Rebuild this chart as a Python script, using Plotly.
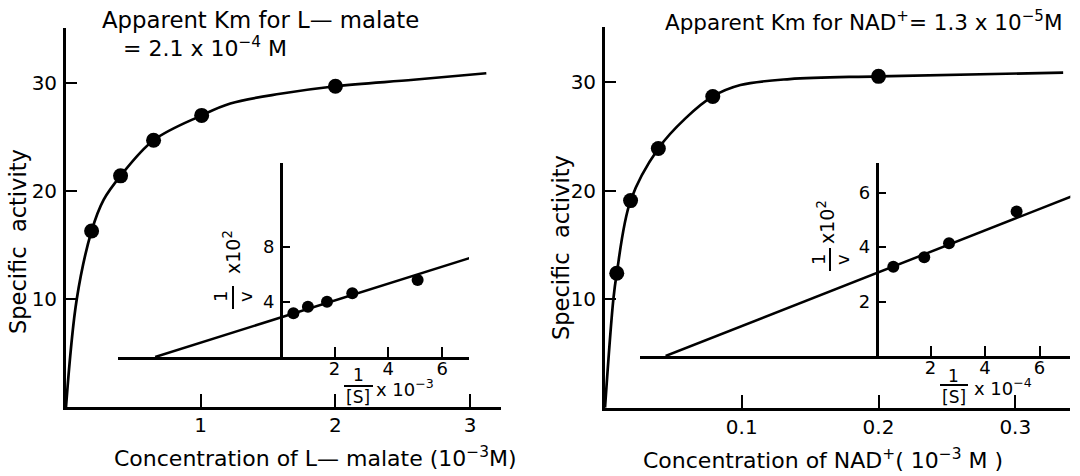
import plotly.graph_objects as go

W, H = 1080, 476

# ---------------- data ----------------
# Left panel: L-malate saturation curve
malate_conc = [0.19, 0.405, 0.65, 1.007, 2.0]
malate_act = [16.3, 21.4, 24.7, 27.0, 29.7]
malate_curve_x = [0.0, 0.08, 0.19, 0.28, 0.405, 0.65, 1.007, 1.22, 1.59, 2.0, 2.58, 3.12]
malate_curve_y = [0.0, 10.0, 16.3, 19.2, 21.4, 24.7, 27.0, 28.1, 29.0, 29.7, 30.3, 30.9]
# Left inset: Lineweaver-Burk
malate_inv_s = [0.47, 1.01, 1.72, 2.66, 5.09]
malate_inv_v = [3.18, 3.66, 4.02, 4.63, 5.6]
malate_fit_x = [-4.67, 7.06]
malate_fit_y = [0.0, 7.22]

# Right panel: NAD+ saturation curve
nad_conc = [0.0086, 0.0187, 0.039, 0.0788, 0.2]
nad_act = [12.4, 19.1, 23.9, 28.7, 30.55]
nad_curve_x = [0.0, 0.0061, 0.0086, 0.0187, 0.039, 0.059, 0.0788, 0.099, 0.135, 0.2, 0.335]
nad_curve_y = [0.0, 10.0, 12.4, 19.1, 23.9, 26.7, 28.7, 29.75, 30.3, 30.55, 30.9]
# Right inset: Lineweaver-Burk
nad_inv_s = [0.635, 1.77, 2.68, 5.16]
nad_inv_v = [3.28, 3.63, 4.14, 5.31]
nad_fit_x = [-7.72, 7.24]
nad_fit_y = [0.0, 5.89]

main_y_ticks = [10, 20, 30]
left_x_ticks = [1, 2, 3]
right_x_ticks = [0.1, 0.2, 0.3]
right_x_labels = ["0.1", "0.2", "0.3"]
inset_x_ticks = [2, 4, 6]
left_inset_y_ticks = [4, 8]
right_inset_y_ticks = [2, 4, 6]

FONT = "DejaVu Sans"
BLACK = "black"


def fx(p):
    return p / W


def fy(p):
    return 1 - p / H


fig = go.Figure()

# Main curves and points
fig.add_trace(go.Scatter(x=malate_curve_x, y=malate_curve_y, mode="lines",
                         line=dict(color=BLACK, width=2.7, shape="spline", smoothing=1.0),
                         xaxis="x", yaxis="y", hoverinfo="skip"))
fig.add_trace(go.Scatter(x=malate_conc, y=malate_act, mode="markers",
                         marker=dict(color=BLACK, size=15), xaxis="x", yaxis="y"))
fig.add_trace(go.Scatter(x=malate_fit_x, y=malate_fit_y, mode="lines",
                         line=dict(color=BLACK, width=2.5), xaxis="x2", yaxis="y2"))
fig.add_trace(go.Scatter(x=malate_inv_s, y=malate_inv_v, mode="markers",
                         marker=dict(color=BLACK, size=12), xaxis="x2", yaxis="y2"))

fig.add_trace(go.Scatter(x=nad_curve_x, y=nad_curve_y, mode="lines",
                         line=dict(color=BLACK, width=2.7, shape="spline", smoothing=1.0),
                         xaxis="x3", yaxis="y3", hoverinfo="skip"))
fig.add_trace(go.Scatter(x=nad_conc, y=nad_act, mode="markers",
                         marker=dict(color=BLACK, size=15), xaxis="x3", yaxis="y3"))
fig.add_trace(go.Scatter(x=nad_fit_x, y=nad_fit_y, mode="lines",
                         line=dict(color=BLACK, width=2.5), xaxis="x4", yaxis="y4"))
fig.add_trace(go.Scatter(x=nad_inv_s, y=nad_inv_v, mode="markers",
                         marker=dict(color=BLACK, size=12), xaxis="x4", yaxis="y4"))

tickfont = dict(family=FONT, size=20, color=BLACK)
insetfont = dict(family=FONT, size=18, color=BLACK)

common = dict(showgrid=False, zeroline=False, showline=True, linecolor=BLACK,
              ticks="inside", tickcolor=BLACK, fixedrange=True)

layout = dict(
    width=W, height=H, margin=dict(l=0, r=0, t=0, b=0),
    paper_bgcolor="white", plot_bgcolor="rgba(0,0,0,0)", showlegend=False,
    # left main
    xaxis=dict(domain=[fx(66), fx(501)], range=[0, 3.229], anchor="y",
               tickvals=left_x_ticks, ticklen=13, tickwidth=2.4, linewidth=2.8,
               tickfont=tickfont, ticklabelstandoff=-2, **common),
    yaxis=dict(domain=[fy(407), fy(28)], range=[0, 35.09], anchor="x",
               tickvals=main_y_ticks, ticklen=11, tickwidth=2.4, linewidth=2.8,
               tickfont=tickfont, ticklabelstandoff=2, **common),
    # left inset
    xaxis2=dict(domain=[fx(117.8), fx(469)], range=[-6.06, 7.0], anchor="y2",
                tickvals=inset_x_ticks, ticklen=10, tickwidth=2.2, linewidth=2.5,
                tickfont=insetfont, ticklabelstandoff=-6, **common),
    yaxis2=dict(domain=[fy(357), fy(163.3)], range=[0, 14.09], anchor="free",
                position=fx(280.7), tickvals=left_inset_y_ticks, ticklen=8,
                tickwidth=2.2, linewidth=2.5, tickfont=insetfont,
                ticklabelstandoff=2, **common),
    # right main
    xaxis3=dict(domain=[fx(605), fx(1070)], range=[0, 0.340], anchor="y3",
                tickvals=right_x_ticks, ticktext=right_x_labels, ticklen=13,
                tickwidth=2.4, linewidth=2.8, tickfont=tickfont,
                ticklabelstandoff=-1, **common),
    yaxis3=dict(domain=[fy(407.8), fy(27)], range=[0, 35.1], anchor="x3",
                tickvals=main_y_ticks, ticklen=11, tickwidth=2.4, linewidth=2.8,
                tickfont=tickfont, ticklabelstandoff=2, **common),
    # right inset
    xaxis4=dict(domain=[fx(640), fx(1070.3)], range=[-8.66, 7.13], anchor="y4",
                tickvals=inset_x_ticks, ticklen=10, tickwidth=2.2, linewidth=2.5,
                tickfont=insetfont, ticklabelstandoff=-6, **common),
    yaxis4=dict(domain=[fy(356), fy(163.3)], range=[0, 7.08], anchor="free",
                position=fx(876.5), tickvals=right_inset_y_ticks, ticklen=8,
                tickwidth=2.2, linewidth=2.5, tickfont=insetfont,
                ticklabelstandoff=2, **common),
)
fig.update_layout(**layout)

anns = []


def txt(text, x, y, size=20, xanchor="center", yanchor="middle", angle=0):
    anns.append(dict(text=text, x=fx(x), y=fy(y), xref="paper", yref="paper",
                     showarrow=False, xanchor=xanchor, yanchor=yanchor,
                     textangle=angle, borderpad=0,
                     font=dict(family=FONT, size=size, color=BLACK)))


# Titles
txt("Apparent Km for L\u2014 malate", 101, 20, size=22.8, xanchor="left")
txt("= 2.1 x 10<sup>\u22124</sup> M", 122, 47, size=22, xanchor="left")
txt("Apparent Km for NAD<sup>+</sup>= 1.3 x 10<sup>\u22125</sup>M", 664, 21, size=21.5, xanchor="left")

# Axis titles
txt("Specific&nbsp;&nbsp;activity", 18, 242, size=22.5, angle=-90)
txt("Specific&nbsp;&nbsp;activity", 561, 248, size=22.5, angle=-90)
txt("Concentration of L\u2014 malate (10<sup>\u22123</sup>M)", 113, 457, size=22, xanchor="left")
txt("Concentration of NAD<sup>+</sup>( 10<sup>\u22123</sup> M )", 642, 459, size=22, xanchor="left")

# Inset x titles: 1/[S] x 10^-n
txt("1", 358, 375, size=17)
txt("[S]", 358, 397, size=17)
txt("x 10<sup>\u22123</sup>", 375, 388, size=18, xanchor="left")
txt("1", 953, 376, size=17)
txt("[S]", 954, 397, size=17)
txt("x 10<sup>\u22124</sup>", 973, 387, size=18, xanchor="left")

# Inset y titles: 1/v x 10^2 (rotated)
txt("1", 220, 297, size=18, angle=-90)
txt("v", 245, 297, size=18, angle=-90)
txt("x10<sup>2</sup>", 232, 252, size=19, angle=-90)
txt("1", 818, 260, size=18, angle=-90)
txt("v", 842, 260, size=18, angle=-90)
txt("x10<sup>2</sup>", 826, 222, size=19, angle=-90)

fig.update_layout(annotations=anns)

shapes = [
    dict(type="line", xref="paper", yref="paper", x0=fx(344), x1=fx(373), y0=fy(386), y1=fy(386),
         line=dict(color=BLACK, width=2)),
    dict(type="line", xref="paper", yref="paper", x0=fx(940), x1=fx(968), y0=fy(385), y1=fy(385),
         line=dict(color=BLACK, width=2)),
    dict(type="line", xref="paper", yref="paper", x0=fx(233), x1=fx(233), y0=fy(286), y1=fy(309),
         line=dict(color=BLACK, width=2)),
    dict(type="line", xref="paper", yref="paper", x0=fx(830), x1=fx(830), y0=fy(248), y1=fy(271),
         line=dict(color=BLACK, width=2)),
]
fig.update_layout(shapes=shapes)

fig.write_html("out.html")
